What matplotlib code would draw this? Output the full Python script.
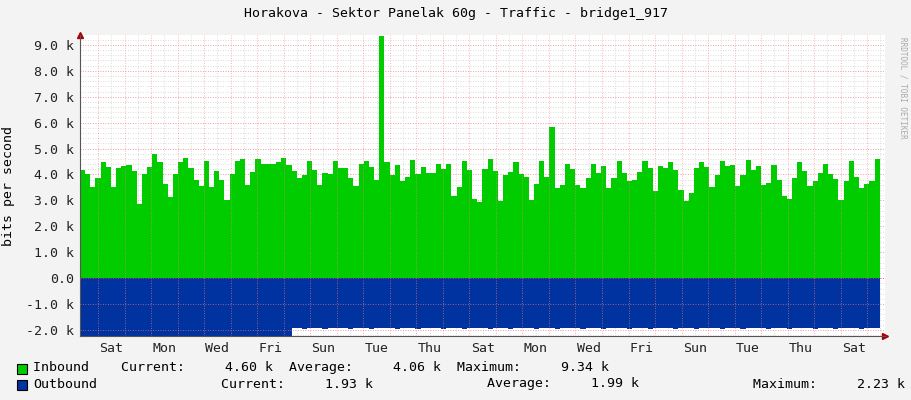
import numpy as np
import matplotlib.pyplot as plt

# inbound traffic (k bits/s), one value per ~4.7 h step
inbound = [4.17, 4.0, 3.53, 3.86, 4.48, 4.29, 3.53, 4.25, 4.33, 4.37, 4.14, 2.87,
           4.03, 4.3, 4.8, 4.48, 3.63, 3.15, 4.03, 4.48, 4.63, 4.25, 3.8, 3.57,
           4.52, 3.5, 4.14, 3.8, 3.03, 4.0, 4.52, 4.6, 3.6, 4.1, 4.6, 4.4,
           4.4, 4.4, 4.48, 4.63, 4.37, 4.14, 3.86, 3.97, 4.52, 4.17, 3.6, 4.07,
           4.03, 4.52, 4.25, 4.25, 3.86, 3.57, 4.4, 4.52, 4.29, 3.8, 9.34, 4.48,
           3.97, 4.37, 3.73, 3.92, 4.57, 4.03, 4.29, 4.07, 4.07, 4.42, 4.2, 4.42,
           3.16, 3.5, 4.52, 4.17, 3.05, 2.93, 4.2, 4.6, 4.14, 2.97, 3.97, 4.1,
           4.48, 4.0, 3.92, 3.03, 3.65, 4.52, 3.92, 5.85, 3.46, 3.6, 4.4, 4.2,
           3.6, 3.46, 3.86, 4.4, 4.07, 4.33, 3.46, 3.86, 4.52, 4.07, 3.73, 3.8,
           4.1, 4.52, 4.25, 3.38, 4.33, 4.25, 4.48, 4.17, 3.42, 2.97, 3.28, 4.25,
           4.48, 4.29, 3.5, 3.97, 4.52, 4.33, 4.37, 3.55, 3.97, 4.57, 4.17, 4.33,
           3.6, 3.68, 4.37, 3.8, 3.16, 3.07, 3.86, 4.48, 4.14, 3.57, 3.73, 4.07,
           4.4, 4.0, 3.82, 3.03, 3.73, 4.52, 3.92, 3.46, 3.65, 3.73, 4.6]

# outbound traffic (k bits/s), drawn below zero
outbound = ([2.23] * 41 +
            [1.93, 1.93, 1.97, 1.93, 1.93, 1.93, 1.97, 1.93, 1.93, 1.93, 1.93, 1.97,
             1.93, 1.93, 1.93, 1.97, 1.93, 1.93, 1.93, 1.93, 1.97, 1.93, 1.93, 1.93,
             1.97, 1.93, 1.93, 1.93, 1.93, 1.97, 1.93, 1.93, 1.93, 1.97, 1.93, 1.93,
             1.93, 1.93, 1.97, 1.93, 1.93, 1.93, 1.97, 1.93, 1.93, 1.93, 1.93, 1.97,
             1.93, 1.93, 1.93, 1.97, 1.93, 1.93, 1.93, 1.93, 1.97, 1.93, 1.93, 1.93,
             1.97, 1.93, 1.93, 1.93, 1.93, 1.97, 1.93, 1.93, 1.93, 1.97, 1.93, 1.93,
             1.93, 1.93, 1.97, 1.93, 1.93, 1.93, 1.97, 1.93, 1.93, 1.93, 1.93, 1.97,
             1.93, 1.93, 1.93, 1.97, 1.93, 1.93, 1.93, 1.93, 1.97, 1.93, 1.93, 1.93,
             1.97, 1.93, 1.93, 1.93, 1.93, 1.97, 1.93, 1.93, 1.93, 1.97, 1.93, 1.93,
             1.93, 1.93, 1.97, 1.93, 1.93, 1.93, 1.93])
outbound = outbound[:len(inbound)] + [1.93] * max(0, len(inbound) - len(outbound))

day_labels = ['Sat', 'Mon', 'Wed', 'Fri', 'Sun', 'Tue', 'Thu', 'Sat',
              'Mon', 'Wed', 'Fri', 'Sun', 'Tue', 'Thu', 'Sat']

total_days = 30.15
first_midnight = 0.68

plt.rcParams['font.family'] = 'DejaVu Sans Mono'
fig = plt.figure(figsize=(9.11, 4.0), dpi=100, facecolor='#f3f3f3')
ax = fig.add_axes([80 / 911, 64 / 400, 805 / 911, 301 / 400])
ax.set_facecolor('white')

n = len(inbound)
edges = np.linspace(0, total_days, n + 1)
ax.stairs(inbound, edges, baseline=0, fill=True, color='#00cc00', zorder=2)
ax.stairs(-np.array(outbound), edges, baseline=0, fill=True, color='#0033a0', zorder=2)

ax.set_xlim(0, total_days + 0.2)
ax.set_ylim(-2.23, 9.38)

# grid
for y in np.arange(-2.2, 9.4, 0.2):
    ax.axhline(y, color='#d0d0d0', lw=0.6, ls=(0, (1, 2)), zorder=1)
for y in range(-2, 10):
    ax.axhline(y, color='#ff8080', lw=0.6, ls=(0, (1, 2)), zorder=3 if y < 0 else 1, alpha=0.8)
days = np.arange(first_midnight, total_days, 1.0)
for d in days:
    ax.axvline(d, color='#ff8080', lw=0.6, ls=(0, (1, 2)), zorder=3, alpha=0.8)
    ax.axvline(d + 0.5, color='#d0d0d0', lw=0.6, ls=(0, (1, 2)), zorder=1)
ax.axhline(0, color='#ff4040', lw=0.6, ls=(0, (1, 2)), zorder=3)

yt = list(range(-2, 10))
ax.set_yticks(yt)
ax.set_yticklabels(['0.0' if v == 0 else f'{v:.1f} k' for v in yt], fontsize=9.5)
ax.set_xticks([first_midnight + 0.5 + 2 * i for i in range(len(day_labels))])
ax.set_xticklabels(day_labels, fontsize=9.5)
ax.tick_params(length=0, pad=4, colors='#222222')
for s in ['top', 'right']:
    ax.spines[s].set_visible(False)
ax.spines['left'].set_color('#555555')
ax.spines['bottom'].set_color('#555555')
ax.plot(1, 0, '>', color='#aa0000', ms=4, transform=ax.transAxes, clip_on=False)
ax.plot(0, 1, '^', color='#aa0000', ms=4, transform=ax.transAxes, clip_on=False)
ax.set_ylabel('bits per second', fontsize=9.5, labelpad=8)

fig.text(0.5, 0.965, 'Horakova - Sektor Panelak 60g - Traffic - bridge1_917',
         ha='center', va='center', fontsize=9.5)
fig.text(0.991, 0.78, 'RRDTOOL / TOBI OETIKER', rotation=270, ha='center',
         va='center', fontsize=5.5, color='#aaaaaa')

fig.patches.append(plt.Rectangle((17 / 911, 1 - 374 / 400), 10 / 911, 10 / 400,
                                 transform=fig.transFigure, fc='#00cc00', ec='black', lw=0.8))
fig.patches.append(plt.Rectangle((17 / 911, 1 - 390 / 400), 10 / 911, 10 / 400,
                                 transform=fig.transFigure, fc='#0033a0', ec='black', lw=0.8))
fig.text(33 / 911, 1 - 368 / 400,
         'Inbound    Current:     4.60 k  Average:     4.06 k  Maximum:     9.34 k',
         va='center', fontsize=9.5)
fig.text(33 / 911, 1 - 384 / 400, 'Outbound', va='center', fontsize=9.5)
fig.text(221 / 911, 1 - 384 / 400, 'Current:     1.93 k', va='center', fontsize=9.5)
fig.text(487 / 911, 1 - 384 / 400, 'Average:     1.99 k', va='center', fontsize=9.5)
fig.text(753 / 911, 1 - 384 / 400, 'Maximum:     2.23 k', va='center', fontsize=9.5)

fig.savefig('out.png', dpi=100, facecolor=fig.get_facecolor())
